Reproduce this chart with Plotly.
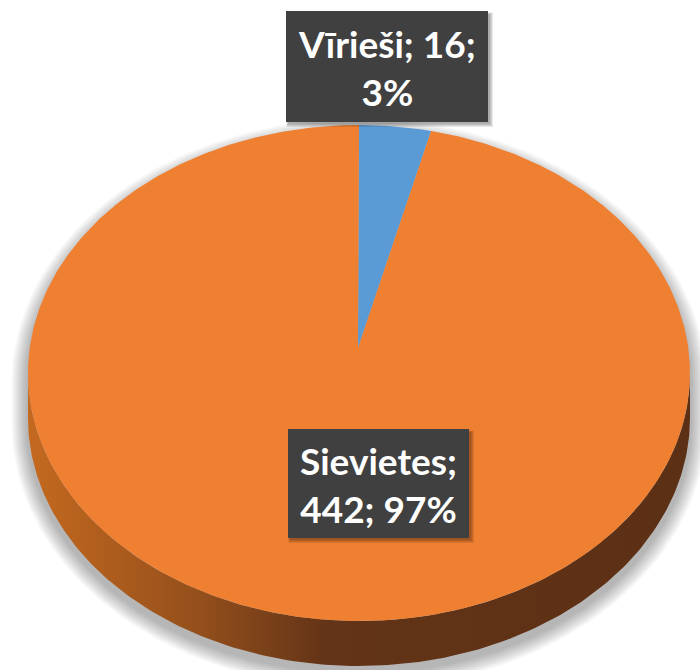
import numpy as np
import plotly.graph_objects as go

# ---- data ----
labels = ["Vīrieši", "Sievietes"]
values = [16, 442]
top_colors = ["#5B9BD5", "#EF7F31"]
side_scales = [
    [[0, "#3F74A6"], [1, "#2A4F73"]],
    [[0, "#C4691F"], [0.25, "#96501C"], [0.45, "#633417"], [1, "#5C3015"]],
]

# ---- geometry (pixels; axes map 1:1 to screen) ----
W, H = 700, 670
CX, CY, A, B = 359.0, 373.0, 331.0, 248.0
APX, APY = 358.0, 348.0
DEPTH = 45.0

total = sum(values)
fracs = [v / total for v in values]
starts = np.cumsum([0] + fracs[:-1]) * 360.0
ends = starts + np.array(fracs) * 360.0


def ell(phi_deg, dy=0.0, grow=0.0):
    p = np.radians(phi_deg)
    return CX + (A + grow) * np.sin(p), CY + dy - (B + grow) * np.cos(p)


fig = go.Figure()

# soft outer shadow of the whole disc
for k in range(10):
    g = 2 + k * 1.6
    ph1 = np.linspace(-90, 90, 120)
    ph2 = np.linspace(90, 270, 120)
    xs1, ys1 = ell(ph1, 10, g)
    xs2, ys2 = ell(ph2, DEPTH + 6, g)
    fig.add_trace(go.Scatter(
        x=np.concatenate([xs1, xs2]), y=np.concatenate([ys1, ys2]),
        mode="lines", line=dict(width=0), fill="toself",
        fillcolor="rgba(0,0,0,0.03)", hoverinfo="skip", showlegend=False))

# side walls (front half only)
for i in range(len(values)):
    lo, hi = max(starts[i], 90.0), min(ends[i], 270.0)
    if hi <= lo:
        continue
    ph = np.linspace(lo, hi, 200)
    xt, yt = ell(ph)
    xb, yb = ell(ph[::-1], DEPTH)
    fig.add_trace(go.Scatter(
        x=np.concatenate([xt, xb]), y=np.concatenate([yt, yb]),
        mode="lines", line=dict(width=0), fill="toself",
        fillgradient=dict(type="horizontal", colorscale=side_scales[i]),
        hoverinfo="skip", showlegend=False))

# top faces
for i in range(len(values)):
    ph = np.linspace(starts[i], ends[i], max(int(ends[i] - starts[i]) * 2, 10))
    xs, ys = ell(ph)
    fig.add_trace(go.Scatter(
        x=np.concatenate([[APX], xs, [APX]]), y=np.concatenate([[APY], ys, [APY]]),
        mode="lines", line=dict(width=0), fill="toself",
        fillcolor=top_colors[i], name=labels[i], hoverinfo="name", showlegend=False))

# data labels
pcts = [round(f * 100) for f in fracs]
texts = [
    f"{labels[0]}; {values[0]};<br>{pcts[0]}%",
    f"{labels[1]};<br>{values[1]}; {pcts[1]}%",
]
boxes = [(286, 11, 488, 122), (288, 429, 469, 538)]
shapes = []
annotations = []
for t, (x0, y0, x1, y1) in zip(texts, boxes):
    for k in range(4):
        o = 2 + k
        shapes.append(dict(type="rect", xref="x", yref="y",
                           x0=x0 + 2 - k * 0.5, x1=x1 + o, y0=y0 + 3 - k * 0.5, y1=y1 + o,
                           line=dict(width=0), fillcolor="rgba(0,0,0,0.09)", layer="above"))
    shapes.append(dict(type="rect", xref="x", yref="y", x0=x0, x1=x1, y0=y0, y1=y1,
                       line=dict(width=0), fillcolor="#404040", layer="above"))
    annotations.append(dict(
        x=(x0 + x1) / 2, y=(y0 + y1) / 2 + 1, xref="x", yref="y",
        text=f"<b>{t}</b>", showarrow=False,
        font=dict(family="Lato", size=37, color="white", weight=900),
        align="center", xanchor="center", yanchor="middle"))

fig.update_layout(
    width=W, height=H, margin=dict(l=0, r=0, t=0, b=0),
    paper_bgcolor="white", plot_bgcolor="white",
    xaxis=dict(range=[0, W], visible=False, fixedrange=True),
    yaxis=dict(range=[H, 0], visible=False, fixedrange=True),
    shapes=shapes, annotations=annotations, showlegend=False,
)

fig.write_html("out.html", config={"displayModeBar": False},
               post_script="document.body.style.margin='0';document.body.style.overflow='hidden';")
